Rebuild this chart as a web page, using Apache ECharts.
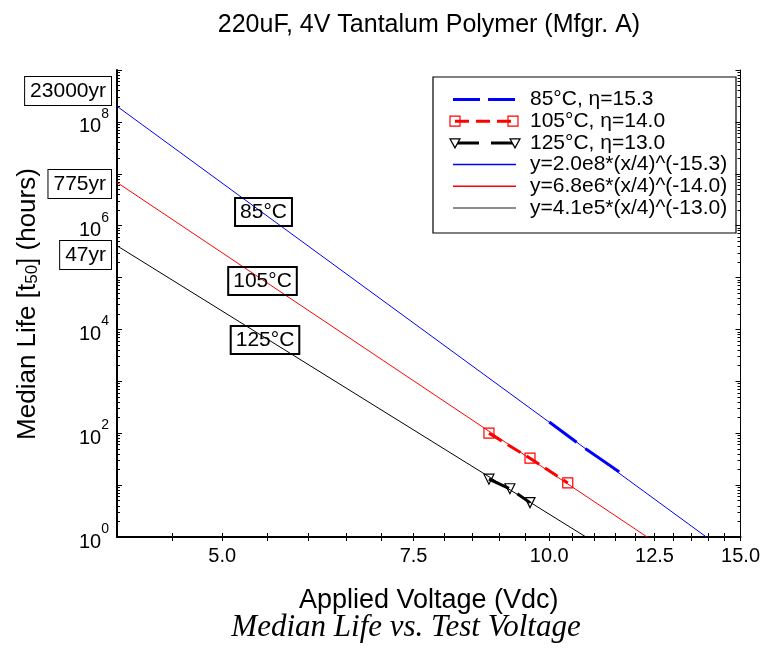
<!DOCTYPE html>
<html>
<head>
<meta charset="utf-8">
<title>Median Life vs. Test Voltage</title>
<script src="https://cdn.jsdelivr.net/npm/echarts@6/dist/echarts.min.js"></script>
<style>
  html, body { margin: 0; padding: 0; background: #fff; }
  #chart { width: 763px; height: 658px; }
</style>
</head>
<body>
<div id="chart"></div>
<script>
// ---- measured median life (hours) at each test voltage ----
const volts85 = [10.0, 10.8, 11.6];
const life85 = [165, 50, 18];
const volts105 = [8.8, 9.6, 10.4];
const life105 = [100, 33, 11];
const volts125 = [8.8, 9.2, 9.6];
const life125 = [13, 8.5, 4.6];

// ---- power-law fits: y = A * (x / 4) ^ (-eta) ----
const dataNames = ['85\u00B0C, \u03B7=15.3', '105\u00B0C, \u03B7=14.0', '125\u00B0C, \u03B7=13.0'];
const fitNames = ['y=2.0e8*(x/4)^(-15.3)', 'y=6.8e6*(x/4)^(-14.0)', 'y=4.1e5*(x/4)^(-13.0)'];
const fitA = [2.0e8, 6.8e6, 4.1e5];
const fitEta = [15.3, 14.0, 13.0];
const fitRefVolt = 4;

// ---- axes ----
const xMin = 4, xMax = 15;
const xTicks = [4.5, 5, 5.5, 6, 6.5, 7, 7.5, 8, 8.5, 9, 9.5, 10, 10.5, 11, 11.5, 12, 12.5, 13, 13.5, 14, 14.5, 15];
const xLabelValues = [5, 7.5, 10, 12.5, 15];
const xLabelTexts = ['5.0', '7.5', '10.0', '12.5', '15.0'];
const yMinExp = 0, yMaxExp = 9;
const yLabelExps = [0, 2, 4, 6, 8];
const yMinorMultipliers = [2, 3, 4, 5, 6, 7, 8, 9];

// ---- annotations ----
const yearLabels = ['23000yr', '775yr', '47yr'];
const tempLabels = ['85\u00B0C', '105\u00B0C', '125\u00B0C'];

const SANS = '"Liberation Sans", Arial, Helvetica, sans-serif';
const SERIF = '"Liberation Serif", "Times New Roman", serif';
const lg = Math.log10;
const colors = ['#0000ff', '#ff0000', '#000000'];

const pairs = (xs, ys) => xs.map((x, i) => [lg(x), lg(ys[i])]);

// fitted lines, drawn across the full voltage range (clipped by the grid)
const fitSeries = fitA.map((A, i) => ({
  name: fitNames[i],
  type: 'line',
  xAxisIndex: 0, yAxisIndex: 0,
  symbol: 'none',
  silent: true,
  z: 2,
  lineStyle: { color: colors[i], width: 1 },
  data: [xMin, xMax].map(v => [lg(v), lg(A * Math.pow(v / fitRefVolt, -fitEta[i]))])
}));

const dataSeries = [
  {
    name: dataNames[0], type: 'line', xAxisIndex: 0, yAxisIndex: 0, z: 4,
    symbol: 'none',
    lineStyle: { color: colors[0], width: 3, type: [34, 11, 44, 10] },
    data: pairs(volts85, life85)
  },
  {
    name: dataNames[1], type: 'line', xAxisIndex: 0, yAxisIndex: 0, z: 4,
    symbol: 'rect', symbolSize: 10,
    itemStyle: { color: 'rgba(0,0,0,0)', borderColor: colors[1], borderWidth: 1.2 },
    lineStyle: { color: colors[1], width: 3, type: [15, 7] },
    data: pairs(volts105, life105)
  },
  {
    name: dataNames[2], type: 'line', xAxisIndex: 0, yAxisIndex: 0, z: 4,
    symbol: 'triangle', symbolSize: 10, symbolRotate: 180,
    itemStyle: { color: 'rgba(0,0,0,0)', borderColor: colors[2], borderWidth: 1.2 },
    lineStyle: { color: colors[2], width: 3, type: [22, 10] },
    data: pairs(volts125, life125)
  }
];

const yMinorTicks = [];
for (let e = yMinExp; e < yMaxExp; e++) {
  yMinorMultipliers.forEach(m => yMinorTicks.push(e + lg(m)));
}

const xLabelFor = v => {
  let best = 0;
  xLabelValues.forEach((lv, i) => {
    if (Math.abs(lg(lv) - v) < Math.abs(lg(xLabelValues[best]) - v)) best = i;
  });
  return xLabelTexts[best];
};

const baseX = {
  type: 'value', min: lg(xMin), max: lg(xMax),
  splitLine: { show: false },
  axisTick: { show: true, inside: true, length: 4, customValues: xTicks.map(lg), lineStyle: { color: '#000', width: 1 } }
};
const baseY = {
  type: 'value', min: yMinExp, max: yMaxExp, interval: 1,
  splitLine: { show: false }
};

// ---- hand-built legend ----
const legX = 433, legY = 77, legW = 303, legH = 156;
const rowY0 = 99.5, rowStep = 21.7;
const symL = 453, symR = 516, textX = 530;
const legendEls = [
  { type: 'rect', shape: { x: legX, y: legY, width: legW, height: legH },
    style: { fill: '#fff', stroke: '#000', lineWidth: 1.2 } }
];
// row 1: 85 C data
legendEls.push({ type: 'line', shape: { x1: symL, y1: rowY0, x2: symR + 2, y2: rowY0 },
  style: { stroke: colors[0], lineWidth: 3, lineDash: [27, 8] } });
// row 2: 105 C data
legendEls.push({ type: 'line', shape: { x1: symL + 2, y1: rowY0 + rowStep, x2: symR - 3, y2: rowY0 + rowStep },
  style: { stroke: colors[1], lineWidth: 3, lineDash: [14, 7] } });
[455, 513].forEach(cx => legendEls.push({ type: 'rect',
  shape: { x: cx - 5, y: rowY0 + rowStep - 5, width: 10, height: 10 },
  style: { fill: 'none', stroke: colors[1], lineWidth: 1.2 } }));
// row 3: 125 C data
legendEls.push({ type: 'line', shape: { x1: symL + 2, y1: rowY0 + 2 * rowStep, x2: symR - 2, y2: rowY0 + 2 * rowStep },
  style: { stroke: colors[2], lineWidth: 3, lineDash: [24, 12] } });
[455, 515].forEach(cx => legendEls.push({ type: 'polygon',
  shape: { points: [[cx - 5, rowY0 + 2 * rowStep - 4], [cx + 5, rowY0 + 2 * rowStep - 4], [cx, rowY0 + 2 * rowStep + 5]] },
  style: { fill: '#fff', stroke: colors[2], lineWidth: 1.2 } }));
// rows 4-6: fitted lines
['#0000ff', '#ff0000', '#666666'].forEach((c, i) => legendEls.push({ type: 'line',
  shape: { x1: symL, y1: rowY0 + (3 + i) * rowStep, x2: symR, y2: rowY0 + (3 + i) * rowStep },
  style: { stroke: c, lineWidth: 1.5 } }));
dataNames.concat(fitNames).forEach((t, i) => legendEls.push({ type: 'text',
  style: { text: t, x: textX, y: rowY0 + i * rowStep, font: '21px ' + SANS, fill: '#000',
    align: 'left', verticalAlign: 'middle', textAlign: 'left', textVerticalAlign: 'middle' } }));

// ---- boxed annotations ----
const boxStyle = (text, x, y, align, bg) => ({
  type: 'text', z: 50,
  style: { text, x, y, font: '21px ' + SANS, fill: '#000',
    align, verticalAlign: 'middle', textAlign: align, textVerticalAlign: 'middle',
    backgroundColor: bg, borderColor: '#000', borderWidth: 1, padding: [4, 5, 3, 5] }
});
const yearPos = [[111, 91], [111, 184], [111, 255]];
const tempPos = [[263.5, 212], [262.5, 281], [265, 340]];
const annotationEls = yearLabels.map((t, i) => boxStyle(t, yearPos[i][0], yearPos[i][1], 'right', '#fff'))
  .concat(tempLabels.map((t, i) => boxStyle(t, tempPos[i][0], tempPos[i][1], 'center', 'rgba(0,0,0,0)')));

const chart = echarts.init(document.getElementById('chart'), null, { renderer: 'canvas' });
chart.setOption({
  animation: false,
  backgroundColor: '#fff',
  textStyle: { fontFamily: SANS },
  grid: { left: 117, right: 22, top: 70, bottom: 121, containLabel: false },
  xAxis: [
    Object.assign({}, baseX, {
      position: 'bottom',
      name: 'Applied Voltage (Vdc)', nameLocation: 'middle', nameGap: 50,
      nameTextStyle: { fontSize: 27, color: '#000', fontFamily: SANS },
      axisLine: { show: true, lineStyle: { color: '#000', width: 2 } },
      axisLabel: { show: true, customValues: xLabelValues.map(lg), formatter: v => xLabelFor(v),
        fontSize: 20, color: '#000', margin: 9, fontFamily: SANS }
    }),
    Object.assign({}, baseX, {
      position: 'top',
      axisLine: { show: true, lineStyle: { color: '#000', width: 1 } },
      axisLabel: { show: false }
    })
  ],
  yAxis: [
    Object.assign({}, baseY, {
      position: 'left',
      axisLine: { show: true, lineStyle: { color: '#000', width: 2 } },
      axisTick: { show: true, inside: true, length: 5, lineStyle: { color: '#000' } },
      axisLabel: {
        show: true, customValues: yLabelExps, margin: 8,
        formatter: v => '{b|10}{s|' + Math.round(v) + '}',
        rich: {
          b: { fontSize: 20, fontFamily: SANS, color: '#000', lineHeight: 30, verticalAlign: 'bottom' },
          s: { fontSize: 14, fontFamily: SANS, color: '#000', lineHeight: 16, verticalAlign: 'top' }
        }
      }
    }),
    Object.assign({}, baseY, {
      position: 'left',
      axisLine: { show: false },
      axisTick: { show: true, inside: true, length: 3, customValues: yMinorTicks, lineStyle: { color: '#000' } },
      axisLabel: { show: false }
    }),
    Object.assign({}, baseY, {
      position: 'right',
      axisLine: { show: true, lineStyle: { color: '#000', width: 1 } },
      axisTick: { show: true, inside: true, length: 5, lineStyle: { color: '#000' } },
      axisLabel: { show: false }
    }),
    Object.assign({}, baseY, {
      position: 'right',
      axisLine: { show: false },
      axisTick: { show: true, inside: true, length: 3, customValues: yMinorTicks, lineStyle: { color: '#000' } },
      axisLabel: { show: false }
    })
  ],
  series: fitSeries.concat(dataSeries),
  graphic: [
    { type: 'text', z: 50, style: { text: '220uF, 4V Tantalum Polymer (Mfgr. A)', x: 429, y: 25,
      font: '25px ' + SANS, fill: '#000', align: 'center', verticalAlign: 'middle',
      textAlign: 'center', textVerticalAlign: 'middle' } },
    { type: 'text', z: 50, style: { text: 'Median Life vs. Test Voltage', x: 406, y: 628,
      font: 'italic 31px ' + SERIF, fill: '#000', align: 'center', verticalAlign: 'middle',
      textAlign: 'center', textVerticalAlign: 'middle' } },
    { type: 'text', z: 50, x: 28, y: 304, rotation: Math.PI / 2,
      style: { text: 'Median Life [t{sub|50}] (hours)', x: 0, y: 0,
        font: '26px ' + SANS, fill: '#000', align: 'center', verticalAlign: 'middle',
        textAlign: 'center', textVerticalAlign: 'middle',
        rich: { sub: { fontSize: 17, fontFamily: SANS, color: '#000', verticalAlign: 'bottom', lineHeight: 18, padding: [14, 0, 0, 0] } } } },
    { type: 'group', z: 60, children: legendEls },
    { type: 'group', z: 50, children: annotationEls }
  ]
});
</script>
</body>
</html>
